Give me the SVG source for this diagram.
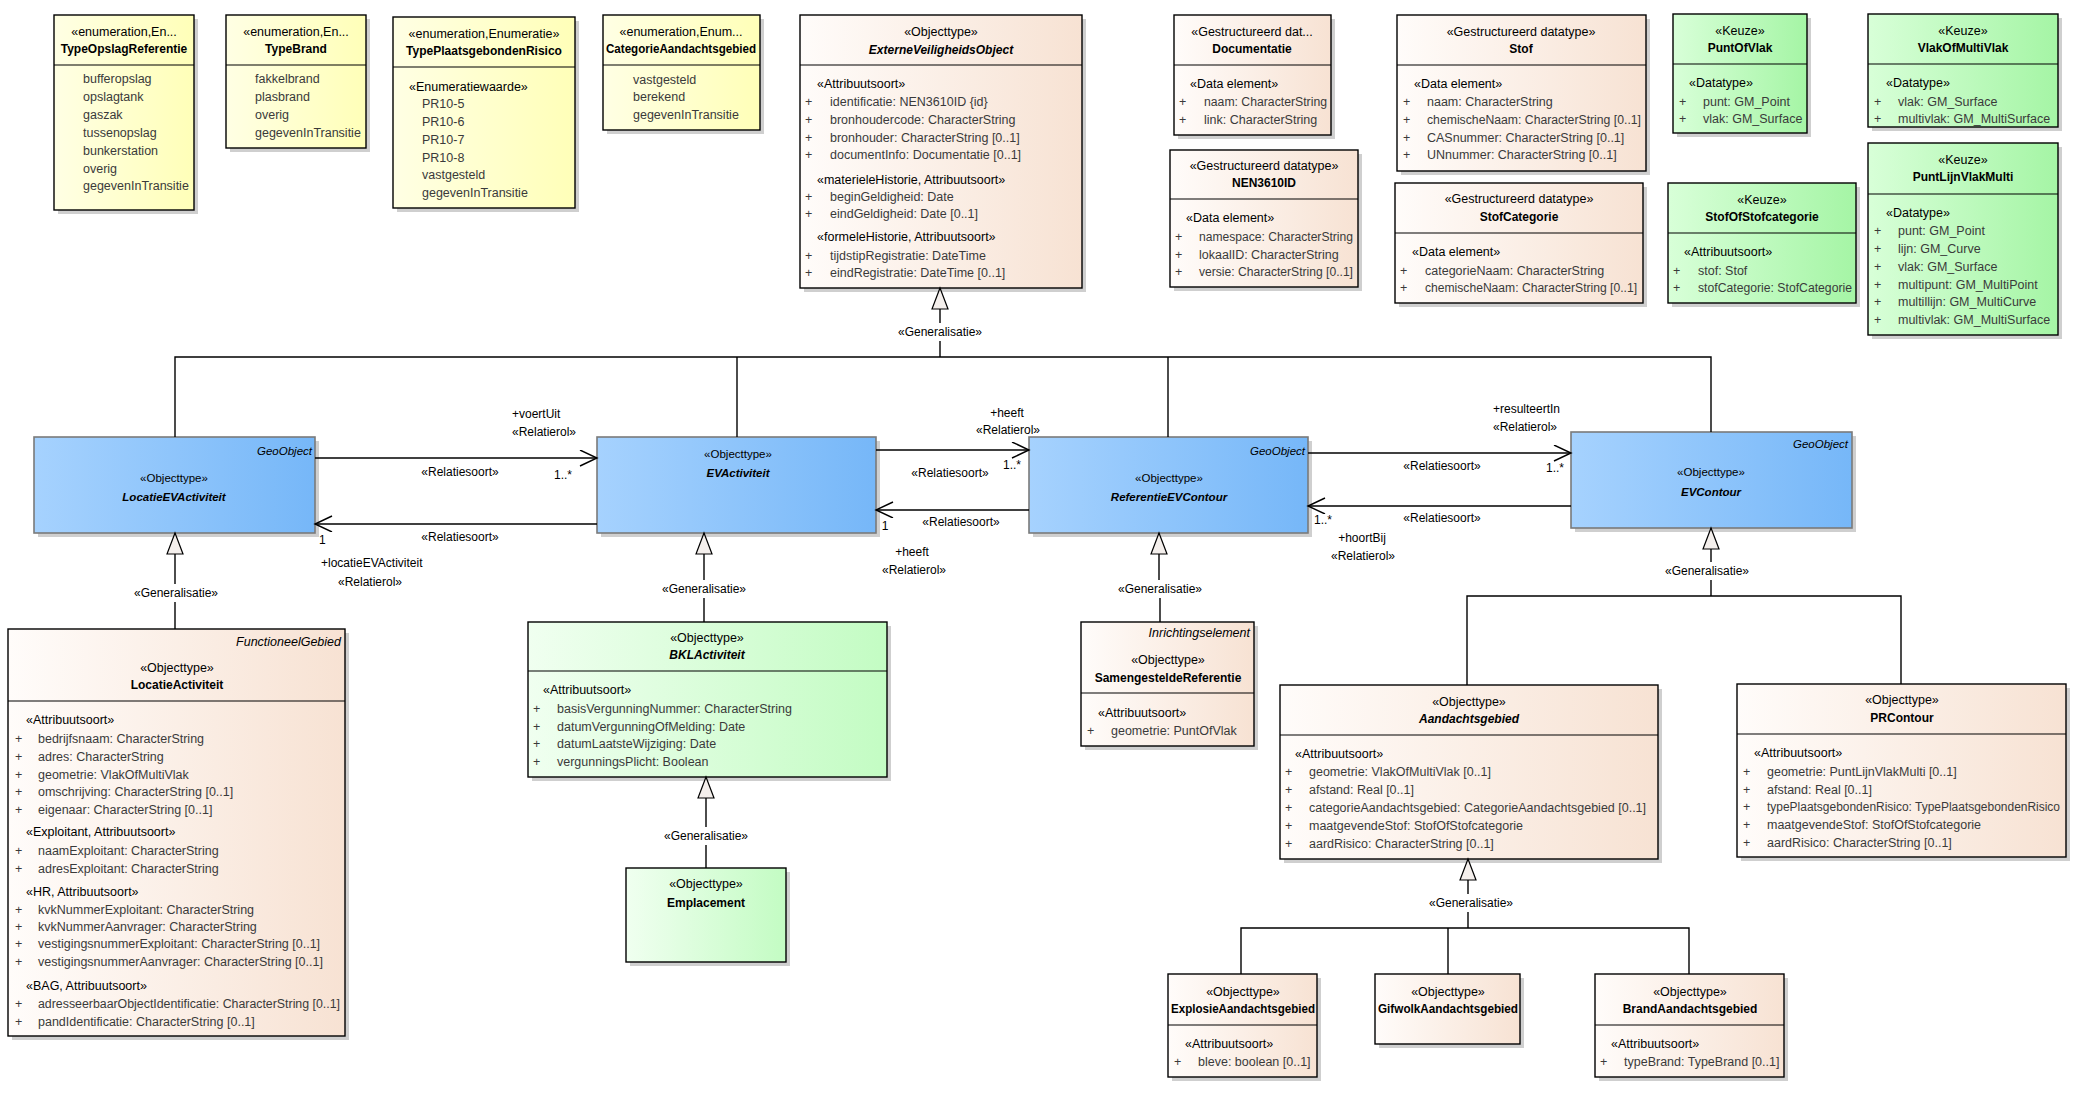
<svg xmlns="http://www.w3.org/2000/svg" width="2089" height="1096" viewBox="0 0 2089 1096">
<defs>
  <linearGradient id="gY"><stop offset="0" stop-color="#ffffe4"/><stop offset="1" stop-color="#ffffb8"/></linearGradient>
  <linearGradient id="gP"><stop offset="0" stop-color="#fffcfa"/><stop offset="1" stop-color="#f7e2d3"/></linearGradient>
  <linearGradient id="gG"><stop offset="0" stop-color="#d8ffd8"/><stop offset="1" stop-color="#a5f5a5"/></linearGradient>
  <linearGradient id="gL"><stop offset="0" stop-color="#f0fff0"/><stop offset="1" stop-color="#c3fcc3"/></linearGradient>
  <linearGradient id="gB"><stop offset="0" stop-color="#a6d2fe"/><stop offset="1" stop-color="#76b7f8"/></linearGradient>
  <!-- open arrowhead for associations -->
  <marker id="open" markerWidth="20" markerHeight="18" refX="18" refY="8" orient="auto" markerUnits="userSpaceOnUse">
    <path d="M1,0 L18,8 L1,16" fill="none" stroke="#000" stroke-width="1.4"/>
  </marker>
  <!-- hollow triangle for generalisation -->
  <marker id="gen" markerWidth="24" markerHeight="20" refX="22" refY="9" orient="auto" markerUnits="userSpaceOnUse">
    <path d="M1,1 L22,9 L1,17 Z" fill="#f4efec" stroke="#000" stroke-width="1.2"/>
  </marker>
  <style>
    text { font-family: "Liberation Sans", Arial, sans-serif; dominant-baseline: central; }
    .box { stroke: #000; stroke-width: 1.4; }
    .bbox { stroke: #7a7a7a; stroke-width: 1.6; fill: url(#gB); }
    .sh { fill: #cfcfcf; }
    .div { stroke: #000; stroke-width: 1.2; }
    .st { font-size: 12.5px; fill: #000; }
    .c { text-anchor: middle; }
    .e { text-anchor: end; }
    .nm { font-size: 12px; font-weight: bold; fill: #000; }
    .it { font-style: italic; }
    .at { font-size: 12.5px; fill: #3a3a3a; }
    .sm { font-size: 11.5px; fill: #000; }
    .lb { font-size: 12px; fill: #000; }
    .ln { stroke: #000; stroke-width: 1.4; fill: none; }
  </style>
</defs>
<rect width="2089" height="1096" fill="#fff"/>

<!-- enumerations -->
<g id="TypeOpslagReferentie">
  <rect class="sh" x="58" y="19" width="140" height="195"/>
  <rect class="box" x="54" y="15" width="140" height="195" fill="url(#gY)"/>
  <line class="div" x1="54" y1="65" x2="194" y2="65"/>
  <text class="st c" x="124" y="32">«enumeration,En...</text>
  <text class="nm c" x="124" y="49">TypeOpslagReferentie</text>
  <text class="at" x="83" y="79">bufferopslag</text>
  <text class="at" x="83" y="97">opslagtank</text>
  <text class="at" x="83" y="115">gaszak</text>
  <text class="at" x="83" y="133">tussenopslag</text>
  <text class="at" x="83" y="151">bunkerstation</text>
  <text class="at" x="83" y="169">overig</text>
  <text class="at" x="83" y="186">gegevenInTransitie</text>
</g>
<g id="TypeBrand">
  <rect class="sh" x="230" y="19" width="140" height="133"/>
  <rect class="box" x="226" y="15" width="140" height="133" fill="url(#gY)"/>
  <line class="div" x1="226" y1="65" x2="366" y2="65"/>
  <text class="st c" x="296" y="32">«enumeration,En...</text>
  <text class="nm c" x="296" y="49">TypeBrand</text>
  <text class="at" x="255" y="79">fakkelbrand</text>
  <text class="at" x="255" y="97">plasbrand</text>
  <text class="at" x="255" y="115">overig</text>
  <text class="at" x="255" y="133">gegevenInTransitie</text>
</g>
<g id="TypePlaatsgebondenRisico">
  <rect class="sh" x="397" y="21" width="182" height="191"/>
  <rect class="box" x="393" y="17" width="182" height="191" fill="url(#gY)"/>
  <line class="div" x1="393" y1="67" x2="575" y2="67"/>
  <text class="st c" x="484" y="34">«enumeration,Enumeratie»</text>
  <text class="nm c" x="484" y="51">TypePlaatsgebondenRisico</text>
  <text class="st" x="409" y="87">«Enumeratiewaarde»</text>
  <text class="at" x="422" y="104">PR10-5</text>
  <text class="at" x="422" y="122">PR10-6</text>
  <text class="at" x="422" y="140">PR10-7</text>
  <text class="at" x="422" y="158">PR10-8</text>
  <text class="at" x="422" y="175">vastgesteld</text>
  <text class="at" x="422" y="193">gegevenInTransitie</text>
</g>
<g id="CategorieAandachtsgebied">
  <rect class="sh" x="607" y="19" width="157" height="115"/>
  <rect class="box" x="603" y="15" width="157" height="115" fill="url(#gY)"/>
  <line class="div" x1="603" y1="65" x2="760" y2="65"/>
  <text class="st c" x="681" y="32">«enumeration,Enum...</text>
  <text class="nm c" x="681" y="49" textLength="150" lengthAdjust="spacingAndGlyphs">CategorieAandachtsgebied</text>
  <text class="at" x="633" y="80">vastgesteld</text>
  <text class="at" x="633" y="97">berekend</text>
  <text class="at" x="633" y="115">gegevenInTransitie</text>
</g>

<!-- object types and data types (top) -->
<g id="ExterneVeiligheidsObject">
  <rect class="sh" x="804" y="19" width="282" height="273"/>
  <rect class="box" x="800" y="15" width="282" height="273" fill="url(#gP)"/>
  <line class="div" x1="800" y1="65" x2="1082" y2="65"/>
  <text class="st c" x="941" y="32">«Objecttype»</text>
  <text class="nm it c" x="941" y="50">ExterneVeiligheidsObject</text>
  <text class="st" x="817" y="84">«Attribuutsoort»</text>
  <text class="at" x="805" y="102">+</text><text class="at" x="830" y="102">identificatie: NEN3610ID {id}</text>
  <text class="at" x="805" y="120">+</text><text class="at" x="830" y="120">bronhoudercode: CharacterString</text>
  <text class="at" x="805" y="138">+</text><text class="at" x="830" y="138">bronhouder: CharacterString [0..1]</text>
  <text class="at" x="805" y="155">+</text><text class="at" x="830" y="155">documentInfo: Documentatie [0..1]</text>
  <text class="st" x="817" y="180">«materieleHistorie, Attribuutsoort»</text>
  <text class="at" x="805" y="197">+</text><text class="at" x="830" y="197">beginGeldigheid: Date</text>
  <text class="at" x="805" y="214">+</text><text class="at" x="830" y="214">eindGeldigheid: Date [0..1]</text>
  <text class="st" x="817" y="237">«formeleHistorie, Attribuutsoort»</text>
  <text class="at" x="805" y="256">+</text><text class="at" x="830" y="256">tijdstipRegistratie: DateTime</text>
  <text class="at" x="805" y="273">+</text><text class="at" x="830" y="273">eindRegistratie: DateTime [0..1]</text>
</g>
<g id="Documentatie">
  <rect class="sh" x="1178" y="19" width="157" height="120"/>
  <rect class="box" x="1174" y="15" width="157" height="120" fill="url(#gP)"/>
  <line class="div" x1="1174" y1="65" x2="1331" y2="65"/>
  <text class="st c" x="1252" y="32">«Gestructureerd dat...</text>
  <text class="nm c" x="1252" y="49">Documentatie</text>
  <text class="st" x="1190" y="84">«Data element»</text>
  <text class="at" x="1179" y="102">+</text><text class="at" x="1204" y="102" textLength="123" lengthAdjust="spacingAndGlyphs">naam: CharacterString</text>
  <text class="at" x="1179" y="120">+</text><text class="at" x="1204" y="120">link: CharacterString</text>
</g>
<g id="NEN3610ID">
  <rect class="sh" x="1174" y="154" width="188" height="137"/>
  <rect class="box" x="1170" y="150" width="188" height="137" fill="url(#gP)"/>
  <line class="div" x1="1170" y1="199" x2="1358" y2="199"/>
  <text class="st c" x="1264" y="166">«Gestructureerd datatype»</text>
  <text class="nm c" x="1264" y="183">NEN3610ID</text>
  <text class="st" x="1186" y="218">«Data element»</text>
  <text class="at" x="1175" y="237">+</text><text class="at" x="1199" y="237" textLength="154" lengthAdjust="spacingAndGlyphs">namespace: CharacterString</text>
  <text class="at" x="1175" y="255">+</text><text class="at" x="1199" y="255">lokaalID: CharacterString</text>
  <text class="at" x="1175" y="272">+</text><text class="at" x="1199" y="272" textLength="154" lengthAdjust="spacingAndGlyphs">versie: CharacterString [0..1]</text>
</g>
<g id="Stof">
  <rect class="sh" x="1401" y="19" width="249" height="156"/>
  <rect class="box" x="1397" y="15" width="249" height="156" fill="url(#gP)"/>
  <line class="div" x1="1397" y1="65" x2="1646" y2="65"/>
  <text class="st c" x="1521" y="32">«Gestructureerd datatype»</text>
  <text class="nm c" x="1521" y="49">Stof</text>
  <text class="st" x="1414" y="84">«Data element»</text>
  <text class="at" x="1403" y="102">+</text><text class="at" x="1427" y="102">naam: CharacterString</text>
  <text class="at" x="1403" y="120">+</text><text class="at" x="1427" y="120" textLength="214" lengthAdjust="spacingAndGlyphs">chemischeNaam: CharacterString [0..1]</text>
  <text class="at" x="1403" y="138">+</text><text class="at" x="1427" y="138">CASnummer: CharacterString [0..1]</text>
  <text class="at" x="1403" y="155">+</text><text class="at" x="1427" y="155">UNnummer: CharacterString [0..1]</text>
</g>
<g id="StofCategorie">
  <rect class="sh" x="1399" y="187" width="248" height="120"/>
  <rect class="box" x="1395" y="183" width="248" height="120" fill="url(#gP)"/>
  <line class="div" x1="1395" y1="233" x2="1643" y2="233"/>
  <text class="st c" x="1519" y="199">«Gestructureerd datatype»</text>
  <text class="nm c" x="1519" y="217">StofCategorie</text>
  <text class="st" x="1412" y="252">«Data element»</text>
  <text class="at" x="1400" y="271">+</text><text class="at" x="1425" y="271">categorieNaam: CharacterString</text>
  <text class="at" x="1400" y="288">+</text><text class="at" x="1425" y="288" textLength="212" lengthAdjust="spacingAndGlyphs">chemischeNaam: CharacterString [0..1]</text>
</g>

<!-- choice types -->
<g id="PuntOfVlak">
  <rect class="sh" x="1677" y="18" width="134" height="119"/>
  <rect class="box" x="1673" y="14" width="134" height="119" fill="url(#gG)"/>
  <line class="div" x1="1673" y1="64" x2="1807" y2="64"/>
  <text class="st c" x="1740" y="31">«Keuze»</text>
  <text class="nm c" x="1740" y="48">PuntOfVlak</text>
  <text class="st" x="1689" y="83">«Datatype»</text>
  <text class="at" x="1679" y="102">+</text><text class="at" x="1703" y="102">punt: GM_Point</text>
  <text class="at" x="1679" y="119">+</text><text class="at" x="1703" y="119">vlak: GM_Surface</text>
</g>
<g id="VlakOfMultiVlak">
  <rect class="sh" x="1872" y="18" width="190" height="113"/>
  <rect class="box" x="1868" y="14" width="190" height="113" fill="url(#gG)"/>
  <line class="div" x1="1868" y1="64" x2="2058" y2="64"/>
  <text class="st c" x="1963" y="31">«Keuze»</text>
  <text class="nm c" x="1963" y="48">VlakOfMultiVlak</text>
  <text class="st" x="1886" y="83">«Datatype»</text>
  <text class="at" x="1874" y="102">+</text><text class="at" x="1898" y="102">vlak: GM_Surface</text>
  <text class="at" x="1874" y="119">+</text><text class="at" x="1898" y="119">multivlak: GM_MultiSurface</text>
</g>
<g id="StofOfStofcategorie">
  <rect class="sh" x="1672" y="187" width="188" height="120"/>
  <rect class="box" x="1668" y="183" width="188" height="120" fill="url(#gG)"/>
  <line class="div" x1="1668" y1="233" x2="1856" y2="233"/>
  <text class="st c" x="1762" y="200">«Keuze»</text>
  <text class="nm c" x="1762" y="217">StofOfStofcategorie</text>
  <text class="st" x="1684" y="252">«Attribuutsoort»</text>
  <text class="at" x="1673" y="271">+</text><text class="at" x="1698" y="271">stof: Stof</text>
  <text class="at" x="1673" y="288">+</text><text class="at" x="1698" y="288" textLength="154" lengthAdjust="spacingAndGlyphs">stofCategorie: StofCategorie</text>
</g>
<g id="PuntLijnVlakMulti">
  <rect class="sh" x="1872" y="147" width="190" height="192"/>
  <rect class="box" x="1868" y="143" width="190" height="192" fill="url(#gG)"/>
  <line class="div" x1="1868" y1="194" x2="2058" y2="194"/>
  <text class="st c" x="1963" y="160">«Keuze»</text>
  <text class="nm c" x="1963" y="177">PuntLijnVlakMulti</text>
  <text class="st" x="1886" y="213">«Datatype»</text>
  <text class="at" x="1874" y="231">+</text><text class="at" x="1898" y="231">punt: GM_Point</text>
  <text class="at" x="1874" y="249">+</text><text class="at" x="1898" y="249">lijn: GM_Curve</text>
  <text class="at" x="1874" y="267">+</text><text class="at" x="1898" y="267">vlak: GM_Surface</text>
  <text class="at" x="1874" y="285">+</text><text class="at" x="1898" y="285">multipunt: GM_MultiPoint</text>
  <text class="at" x="1874" y="302">+</text><text class="at" x="1898" y="302">multillijn: GM_MultiCurve</text>
  <text class="at" x="1874" y="320">+</text><text class="at" x="1898" y="320">multivlak: GM_MultiSurface</text>
</g>

<!-- geo object types -->
<g id="LocatieEVActiviteit">
  <rect class="sh" x="38" y="441" width="281" height="96"/>
  <rect class="bbox" x="34" y="437" width="281" height="96"/>
  <text class="sm it e" x="312" y="451">GeoObject</text>
  <text class="sm c" x="174" y="478">«Objecttype»</text>
  <text class="sm it c" x="174" y="497" font-weight="bold">LocatieEVActiviteit</text>
</g>
<g id="EVActiviteit">
  <rect class="sh" x="601" y="441" width="279" height="96"/>
  <rect class="bbox" x="597" y="437" width="279" height="96"/>
  <text class="sm c" x="738" y="454">«Objecttype»</text>
  <text class="sm it c" x="738" y="473" font-weight="bold">EVActiviteit</text>
</g>
<g id="ReferentieEVContour">
  <rect class="sh" x="1033" y="441" width="279" height="96"/>
  <rect class="bbox" x="1029" y="437" width="279" height="96"/>
  <text class="sm it e" x="1305" y="451">GeoObject</text>
  <text class="sm c" x="1169" y="478">«Objecttype»</text>
  <text class="sm it c" x="1169" y="497" font-weight="bold">ReferentieEVContour</text>
</g>
<g id="EVContour">
  <rect class="sh" x="1575" y="436" width="281" height="96"/>
  <rect class="bbox" x="1571" y="432" width="281" height="96"/>
  <text class="sm it e" x="1848" y="444">GeoObject</text>
  <text class="sm c" x="1711" y="472">«Objecttype»</text>
  <text class="sm it c" x="1711" y="492" font-weight="bold">EVContour</text>
</g>

<!-- lower object types -->
<g id="LocatieActiviteit">
  <rect class="sh" x="12" y="633" width="337" height="407"/>
  <rect class="box" x="8" y="629" width="337" height="407" fill="url(#gP)"/>
  <line class="div" x1="8" y1="701" x2="345" y2="701"/>
  <text class="st it e" x="341" y="642">FunctioneelGebied</text>
  <text class="st c" x="177" y="668">«Objecttype»</text>
  <text class="nm c" x="177" y="685">LocatieActiviteit</text>
  <text class="st" x="26" y="720">«Attribuutsoort»</text>
  <text class="at" x="15" y="739">+</text><text class="at" x="38" y="739">bedrijfsnaam: CharacterString</text>
  <text class="at" x="15" y="757">+</text><text class="at" x="38" y="757">adres: CharacterString</text>
  <text class="at" x="15" y="775">+</text><text class="at" x="38" y="775">geometrie: VlakOfMultiVlak</text>
  <text class="at" x="15" y="792">+</text><text class="at" x="38" y="792">omschrijving: CharacterString [0..1]</text>
  <text class="at" x="15" y="810">+</text><text class="at" x="38" y="810">eigenaar: CharacterString [0..1]</text>
  <text class="st" x="26" y="832">«Exploitant, Attribuutsoort»</text>
  <text class="at" x="15" y="851">+</text><text class="at" x="38" y="851">naamExploitant: CharacterString</text>
  <text class="at" x="15" y="869">+</text><text class="at" x="38" y="869">adresExploitant: CharacterString</text>
  <text class="st" x="26" y="892">«HR, Attribuutsoort»</text>
  <text class="at" x="15" y="910">+</text><text class="at" x="38" y="910">kvkNummerExploitant: CharacterString</text>
  <text class="at" x="15" y="927">+</text><text class="at" x="38" y="927">kvkNummerAanvrager: CharacterString</text>
  <text class="at" x="15" y="944">+</text><text class="at" x="38" y="944">vestigingsnummerExploitant: CharacterString [0..1]</text>
  <text class="at" x="15" y="962">+</text><text class="at" x="38" y="962">vestigingsnummerAanvrager: CharacterString [0..1]</text>
  <text class="st" x="26" y="986">«BAG, Attribuutsoort»</text>
  <text class="at" x="15" y="1004">+</text><text class="at" x="38" y="1004" textLength="302" lengthAdjust="spacingAndGlyphs">adresseerbaarObjectIdentificatie: CharacterString [0..1]</text>
  <text class="at" x="15" y="1022">+</text><text class="at" x="38" y="1022">pandIdentificatie: CharacterString [0..1]</text>
</g>
<g id="BKLActiviteit">
  <rect class="sh" x="532" y="626" width="359" height="155"/>
  <rect class="box" x="528" y="622" width="359" height="155" fill="url(#gL)"/>
  <line class="div" x1="528" y1="671" x2="887" y2="671"/>
  <text class="st c" x="707" y="638">«Objecttype»</text>
  <text class="nm it c" x="707" y="655">BKLActiviteit</text>
  <text class="st" x="543" y="690">«Attribuutsoort»</text>
  <text class="at" x="533" y="709">+</text><text class="at" x="557" y="709">basisVergunningNummer: CharacterString</text>
  <text class="at" x="533" y="727">+</text><text class="at" x="557" y="727">datumVergunningOfMelding: Date</text>
  <text class="at" x="533" y="744">+</text><text class="at" x="557" y="744">datumLaatsteWijziging: Date</text>
  <text class="at" x="533" y="762">+</text><text class="at" x="557" y="762">vergunningsPlicht: Boolean</text>
</g>
<g id="Emplacement">
  <rect class="sh" x="630" y="872" width="160" height="94"/>
  <rect class="box" x="626" y="868" width="160" height="94" fill="url(#gL)"/>
  <text class="st c" x="706" y="884">«Objecttype»</text>
  <text class="nm c" x="706" y="903">Emplacement</text>
</g>
<g id="SamengesteldeReferentie">
  <rect class="sh" x="1085" y="626" width="173" height="124"/>
  <rect class="box" x="1081" y="622" width="173" height="124" fill="url(#gP)"/>
  <line class="div" x1="1081" y1="693" x2="1254" y2="693"/>
  <text class="st it e" x="1250" y="633">Inrichtingselement</text>
  <text class="st c" x="1168" y="660">«Objecttype»</text>
  <text class="nm c" x="1168" y="678">SamengesteldeReferentie</text>
  <text class="st" x="1098" y="713">«Attribuutsoort»</text>
  <text class="at" x="1087" y="731">+</text><text class="at" x="1111" y="731">geometrie: PuntOfVlak</text>
</g>
<g id="Aandachtsgebied">
  <rect class="sh" x="1284" y="689" width="378" height="174"/>
  <rect class="box" x="1280" y="685" width="378" height="174" fill="url(#gP)"/>
  <line class="div" x1="1280" y1="735" x2="1658" y2="735"/>
  <text class="st c" x="1469" y="702">«Objecttype»</text>
  <text class="nm it c" x="1469" y="719">Aandachtsgebied</text>
  <text class="st" x="1295" y="754">«Attribuutsoort»</text>
  <text class="at" x="1285" y="772">+</text><text class="at" x="1309" y="772">geometrie: VlakOfMultiVlak [0..1]</text>
  <text class="at" x="1285" y="790">+</text><text class="at" x="1309" y="790">afstand: Real [0..1]</text>
  <text class="at" x="1285" y="808">+</text><text class="at" x="1309" y="808">categorieAandachtsgebied: CategorieAandachtsgebied [0..1]</text>
  <text class="at" x="1285" y="826">+</text><text class="at" x="1309" y="826">maatgevendeStof: StofOfStofcategorie</text>
  <text class="at" x="1285" y="844">+</text><text class="at" x="1309" y="844">aardRisico: CharacterString [0..1]</text>
</g>
<g id="PRContour">
  <rect class="sh" x="1741" y="688" width="329" height="173"/>
  <rect class="box" x="1737" y="684" width="329" height="173" fill="url(#gP)"/>
  <line class="div" x1="1737" y1="734" x2="2066" y2="734"/>
  <text class="st c" x="1902" y="700">«Objecttype»</text>
  <text class="nm c" x="1902" y="718">PRContour</text>
  <text class="st" x="1754" y="753">«Attribuutsoort»</text>
  <text class="at" x="1743" y="772">+</text><text class="at" x="1767" y="772">geometrie: PuntLijnVlakMulti [0..1]</text>
  <text class="at" x="1743" y="790">+</text><text class="at" x="1767" y="790">afstand: Real [0..1]</text>
  <text class="at" x="1743" y="807">+</text><text class="at" x="1767" y="807" textLength="293" lengthAdjust="spacingAndGlyphs">typePlaatsgebondenRisico: TypePlaatsgebondenRisico</text>
  <text class="at" x="1743" y="825">+</text><text class="at" x="1767" y="825">maatgevendeStof: StofOfStofcategorie</text>
  <text class="at" x="1743" y="843">+</text><text class="at" x="1767" y="843">aardRisico: CharacterString [0..1]</text>
</g>
<g id="ExplosieAandachtsgebied">
  <rect class="sh" x="1172" y="978" width="149" height="103"/>
  <rect class="box" x="1168" y="974" width="149" height="103" fill="url(#gP)"/>
  <line class="div" x1="1168" y1="1025" x2="1317" y2="1025"/>
  <text class="st c" x="1243" y="992">«Objecttype»</text>
  <text class="nm c" x="1243" y="1009" textLength="144" lengthAdjust="spacingAndGlyphs">ExplosieAandachtsgebied</text>
  <text class="st" x="1185" y="1044">«Attribuutsoort»</text>
  <text class="at" x="1174" y="1062">+</text><text class="at" x="1198" y="1062">bleve: boolean [0..1]</text>
</g>
<g id="GifwolkAandachtsgebied">
  <rect class="sh" x="1379" y="978" width="145" height="70"/>
  <rect class="box" x="1375" y="974" width="145" height="70" fill="url(#gP)"/>
  <text class="st c" x="1448" y="992">«Objecttype»</text>
  <text class="nm c" x="1448" y="1009" textLength="140" lengthAdjust="spacingAndGlyphs">GifwolkAandachtsgebied</text>
</g>
<g id="BrandAandachtsgebied">
  <rect class="sh" x="1599" y="978" width="189" height="103"/>
  <rect class="box" x="1595" y="974" width="189" height="103" fill="url(#gP)"/>
  <line class="div" x1="1595" y1="1025" x2="1784" y2="1025"/>
  <text class="st c" x="1690" y="992">«Objecttype»</text>
  <text class="nm c" x="1690" y="1009">BrandAandachtsgebied</text>
  <text class="st" x="1611" y="1044">«Attribuutsoort»</text>
  <text class="at" x="1600" y="1062">+</text><text class="at" x="1624" y="1062">typeBrand: TypeBrand [0..1]</text>
</g>

<!-- connectors -->
<g id="connectors">
  <!-- generalisation tree towards ExterneVeiligheidsObject -->
  <polyline class="ln" points="175,437 175,357 1711,357 1711,432"/>
  <line class="ln" x1="737" y1="357" x2="737" y2="437"/>
  <line class="ln" x1="1168" y1="357" x2="1168" y2="437"/>
  <line class="ln" x1="940" y1="357" x2="940" y2="341"/>
  <line class="ln" x1="940" y1="323" x2="940" y2="288" marker-end="url(#gen)"/>
  <text class="lb c" x="940" y="332">«Generalisatie»</text>

  <!-- LocatieActiviteit -> LocatieEVActiviteit -->
  <line class="ln" x1="175" y1="629" x2="175" y2="602"/>
  <line class="ln" x1="175" y1="584" x2="175" y2="533" marker-end="url(#gen)"/>
  <text class="lb c" x="176" y="593">«Generalisatie»</text>

  <!-- BKLActiviteit -> EVActiviteit -->
  <line class="ln" x1="704" y1="622" x2="704" y2="598"/>
  <line class="ln" x1="704" y1="580" x2="704" y2="533" marker-end="url(#gen)"/>
  <text class="lb c" x="704" y="589">«Generalisatie»</text>

  <!-- Emplacement -> BKLActiviteit -->
  <line class="ln" x1="706" y1="868" x2="706" y2="845"/>
  <line class="ln" x1="706" y1="827" x2="706" y2="777" marker-end="url(#gen)"/>
  <text class="lb c" x="706" y="836">«Generalisatie»</text>

  <!-- SamengesteldeReferentie -> ReferentieEVContour -->
  <line class="ln" x1="1160" y1="622" x2="1160" y2="598"/>
  <line class="ln" x1="1159" y1="580" x2="1159" y2="533" marker-end="url(#gen)"/>
  <text class="lb c" x="1160" y="589">«Generalisatie»</text>

  <!-- Aandachtsgebied, PRContour -> EVContour -->
  <polyline class="ln" points="1467,685 1467,596 1901,596 1901,684"/>
  <line class="ln" x1="1711" y1="596" x2="1711" y2="580"/>
  <line class="ln" x1="1711" y1="562" x2="1711" y2="528" marker-end="url(#gen)"/>
  <text class="lb c" x="1707" y="571">«Generalisatie»</text>

  <!-- subtypes -> Aandachtsgebied -->
  <polyline class="ln" points="1241,974 1241,928 1689,928 1689,974"/>
  <line class="ln" x1="1448" y1="928" x2="1448" y2="974"/>
  <line class="ln" x1="1468" y1="928" x2="1468" y2="912"/>
  <line class="ln" x1="1468" y1="894" x2="1468" y2="859" marker-end="url(#gen)"/>
  <text class="lb c" x="1471" y="903">«Generalisatie»</text>

  <!-- LocatieEVActiviteit <-> EVActiviteit -->
  <line class="ln" x1="315" y1="458" x2="597" y2="458" marker-end="url(#open)"/>
  <text class="lb" x="512" y="414">+voertUit</text>
  <text class="lb" x="512" y="432">«Relatierol»</text>
  <text class="lb c" x="460" y="472">«Relatiesoort»</text>
  <text class="lb" x="554" y="475">1..*</text>
  <line class="ln" x1="597" y1="524" x2="315" y2="524" marker-end="url(#open)"/>
  <text class="lb c" x="460" y="537">«Relatiesoort»</text>
  <text class="lb" x="319" y="540">1</text>
  <text class="lb" x="321" y="563">+locatieEVActiviteit</text>
  <text class="lb" x="338" y="582">«Relatierol»</text>

  <!-- EVActiviteit <-> ReferentieEVContour -->
  <line class="ln" x1="876" y1="450" x2="1029" y2="450" marker-end="url(#open)"/>
  <text class="lb c" x="1007" y="413">+heeft</text>
  <text class="lb c" x="1008" y="430">«Relatierol»</text>
  <text class="lb c" x="1012" y="465">1..*</text>
  <text class="lb c" x="950" y="473">«Relatiesoort»</text>
  <line class="ln" x1="1029" y1="510" x2="876" y2="510" marker-end="url(#open)"/>
  <text class="lb c" x="961" y="522">«Relatiesoort»</text>
  <text class="lb c" x="885" y="526">1</text>
  <text class="lb c" x="912" y="552">+heeft</text>
  <text class="lb c" x="914" y="570">«Relatierol»</text>

  <!-- ReferentieEVContour <-> EVContour -->
  <line class="ln" x1="1308" y1="453" x2="1571" y2="453" marker-end="url(#open)"/>
  <text class="lb" x="1493" y="409">+resulteertIn</text>
  <text class="lb" x="1493" y="427">«Relatierol»</text>
  <text class="lb c" x="1442" y="466">«Relatiesoort»</text>
  <text class="lb c" x="1555" y="468">1..*</text>
  <line class="ln" x1="1571" y1="506" x2="1308" y2="506" marker-end="url(#open)"/>
  <text class="lb c" x="1442" y="518">«Relatiesoort»</text>
  <text class="lb c" x="1323" y="520">1..*</text>
  <text class="lb c" x="1362" y="538">+hoortBij</text>
  <text class="lb c" x="1363" y="556">«Relatierol»</text>
</g>
</svg>
